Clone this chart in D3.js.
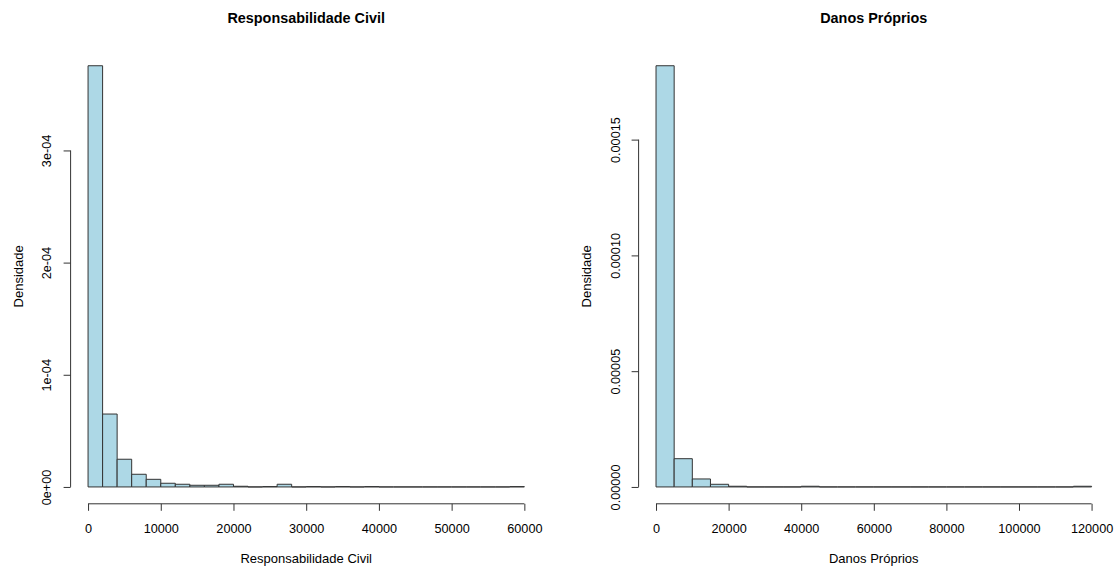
<!DOCTYPE html>
<html>
<head>
<meta charset="utf-8">
<script src="https://cdn.jsdelivr.net/npm/d3@7"></script>
<style>
  html, body { margin: 0; padding: 0; background: #fff; }
  svg { display: block; }
  text { font-family: "Liberation Sans", Arial, sans-serif; fill: #000; }
</style>
</head>
<body>
<svg id="chart" width="1115" height="567"></svg>
<script>
// Histogram of claim amounts: Responsabilidade Civil (bin width 2000)
const rcBreaks = [0, 2000, 4000, 6000, 8000, 10000, 12000, 14000, 16000, 18000, 20000,
  22000, 24000, 26000, 28000, 30000, 32000, 34000, 36000, 38000, 40000,
  42000, 44000, 46000, 48000, 50000, 52000, 54000, 56000, 58000, 60000];
const rcDensity = [3.755e-4, 6.5e-5, 2.47e-5, 1.13e-5, 6.8e-6, 3.3e-6, 2.4e-6, 1.5e-6, 1.5e-6, 2.4e-6,
  6e-7, 0, 3e-7, 2.4e-6, 0, 3e-7, 0, 3e-7, 0, 3e-7,
  0, 0, 0, 0, 0, 0, 0, 0, 0, 3e-7];
const rcXTicks = [0, 10000, 20000, 30000, 40000, 50000, 60000];
const rcYTicks = [0, 1e-4, 2e-4, 3e-4];
const rcYLabels = ["0e+00", "1e-04", "2e-04", "3e-04"];

// Histogram of claim amounts: Danos Próprios (bin width 5000)
const dpBreaks = [0, 5000, 10000, 15000, 20000, 25000, 30000, 35000, 40000, 45000, 50000,
  55000, 60000, 65000, 70000, 75000, 80000, 85000, 90000, 95000, 100000,
  105000, 110000, 115000, 120000];
const dpDensity = [1.819e-4, 1.22e-5, 3.45e-6, 1.15e-6, 3e-7, 0, 0, 0, 3e-7, 0,
  0, 0, 0, 0, 0, 0, 0, 0, 0, 0,
  0, 0, 0, 3e-7];
const dpXTicks = [0, 20000, 40000, 60000, 80000, 100000, 120000];
const dpYTicks = [0, 5e-5, 1e-4, 1.5e-4];
const dpYLabels = ["0.00000", "0.00005", "0.00010", "0.00015"];

const svg = d3.select("#chart");
const ink = "#333";

function panel(cfg) {
  const { left, right, top, bottom } = cfg.box;
  const xMax = cfg.breaks[cfg.breaks.length - 1];
  const yMax = d3.max(cfg.density);
  // 4% padding on each side of the data range
  const x = d3.scaleLinear()
    .domain([-0.04 * xMax, 1.04 * xMax])
    .range([left, right]);
  const y = d3.scaleLinear()
    .domain([-0.04 * yMax, 1.04 * yMax])
    .range([bottom, top]);

  const g = svg.append("g");

  // bars as closed paths so empty bins still show their outline on the baseline
  const bins = cfg.density.map((d, i) => ({ x0: cfg.breaks[i], x1: cfg.breaks[i + 1], d }));
  g.selectAll("path.bar").data(bins).join("path")
    .attr("class", "bar")
    .attr("d", b => {
      const p = d3.path();
      p.moveTo(x(b.x0), y(0));
      p.lineTo(x(b.x0), y(b.d));
      p.lineTo(x(b.x1), y(b.d));
      p.lineTo(x(b.x1), y(0));
      p.closePath();
      return p.toString();
    })
    .attr("fill", "#ADD8E6")
    .attr("stroke", ink)
    .attr("stroke-width", 1);

  // x axis: line spans first to last tick
  const xAxis = d3.axisBottom(x)
    .tickValues(cfg.xTicks)
    .tickFormat(d3.format("d"))
    .tickSize(7)
    .tickSizeOuter(0)
    .tickPadding(13);
  const gx = g.append("g").attr("transform", `translate(0,${bottom})`).call(xAxis);
  gx.select(".domain").remove();
  gx.append("line")
    .attr("x1", x(cfg.xTicks[0])).attr("x2", x(cfg.xTicks[cfg.xTicks.length - 1]))
    .attr("y1", 0).attr("y2", 0)
    .attr("stroke", ink);
  gx.selectAll(".tick line").attr("stroke", ink);
  gx.selectAll(".tick text")
    .style("font-family", "Liberation Sans, Arial, sans-serif")
    .style("font-size", "12.7px")
    .attr("fill", "#000");

  // y axis with rotated labels
  const yAxis = d3.axisLeft(y)
    .tickValues(cfg.yTicks)
    .tickFormat((d, i) => cfg.yLabels[i])
    .tickSize(7)
    .tickSizeOuter(0);
  const gy = g.append("g").attr("transform", `translate(${left},0)`).call(yAxis);
  gy.select(".domain").remove();
  gy.append("line")
    .attr("x1", 0).attr("x2", 0)
    .attr("y1", y(cfg.yTicks[0])).attr("y2", y(cfg.yTicks[cfg.yTicks.length - 1]))
    .attr("stroke", ink);
  gy.selectAll(".tick line").attr("stroke", ink);
  gy.selectAll(".tick text")
    .attr("x", null).attr("dy", null)
    .attr("transform", `translate(${-cfg.yLabelOffset},0) rotate(-90)`)
    .attr("text-anchor", "middle")
    .style("font-family", "Liberation Sans, Arial, sans-serif")
    .style("font-size", "12.7px")
    .attr("fill", "#000");

  const cx = (left + right) / 2;
  const cy = (top + bottom) / 2;

  g.append("text")
    .attr("x", cx).attr("y", 22.7)
    .attr("text-anchor", "middle")
    .style("font-size", "14.4px")
    .style("font-weight", "bold")
    .text(cfg.title);

  g.append("text")
    .attr("x", cx).attr("y", 563)
    .attr("text-anchor", "middle")
    .style("font-size", "13px")
    .text(cfg.xLabel);

  g.append("text")
    .attr("transform", `translate(${cfg.yTitleX},${cy}) rotate(-90)`)
    .attr("text-anchor", "middle")
    .style("font-size", "13px")
    .text("Densidade");
}

panel({
  box: { left: 70.6, right: 541.8, top: 48.9, bottom: 503.8 },
  breaks: rcBreaks, density: rcDensity,
  xTicks: rcXTicks, yTicks: rcYTicks, yLabels: rcYLabels,
  yLabelOffset: 20, yTitleX: 22.7,
  title: "Responsabilidade Civil", xLabel: "Responsabilidade Civil"
});

panel({
  box: { left: 638.6, right: 1109, top: 48.9, bottom: 503.8 },
  breaks: dpBreaks, density: dpDensity,
  xTicks: dpXTicks, yTicks: dpYTicks, yLabels: dpYLabels,
  yLabelOffset: 18.5, yTitleX: 591,
  title: "Danos Próprios", xLabel: "Danos Próprios"
});
</script>
</body>
</html>
